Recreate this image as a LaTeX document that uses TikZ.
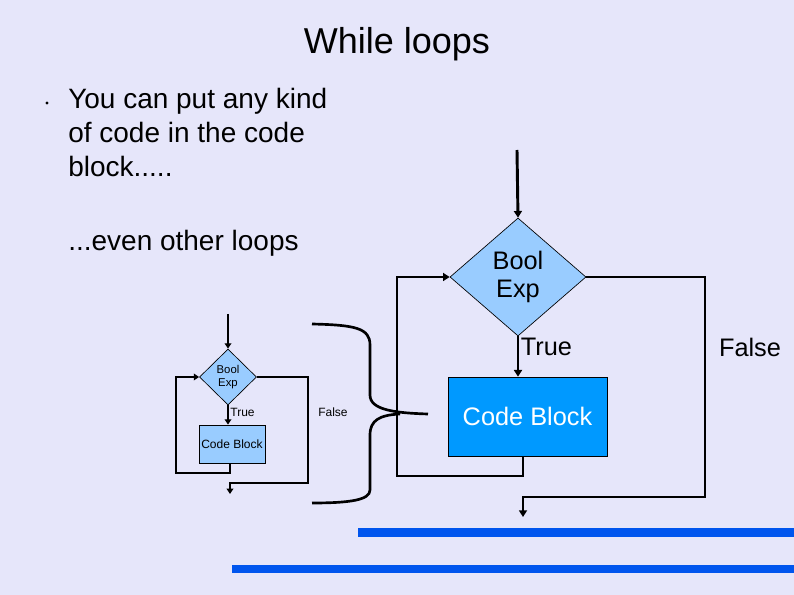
\documentclass[tikz,border=0pt]{standalone}
\usepackage{fontspec}
\setmainfont{Liberation Sans}
\usetikzlibrary{shapes.geometric,arrows.meta}
\definecolor{bg}{HTML}{E6E6FA}
\definecolor{lblue}{HTML}{99CCFF}
\definecolor{dblue}{HTML}{0099FF}
\definecolor{bar}{HTML}{0055EE}
\begin{document}
\begin{tikzpicture}[x=0.75pt,y=-0.75pt,
  ln/.style={line width=2.2pt,draw=black},
  arr/.style={ln,-{Triangle[width=6pt,length=5pt]}},
  sln/.style={line width=1.6pt,draw=black},
  sarr/.style={sln,-{Triangle[width=5pt,length=4pt]}},
  dia/.style={diamond,draw=black,line width=0.5pt,inner sep=0pt,align=center},
  box/.style={rectangle,draw=black,line width=0.5pt,inner sep=0pt}]
\fill[bg] (0,0) rectangle (794,595);
\useasboundingbox (0,0) rectangle (794,595);
\node[font=\fontsize{27}{30}\selectfont] (title) at (397,44) {While loops};
\fill (47,103) circle (1.6);
\node[anchor=north west,align=left,inner sep=0pt,font=\fontsize{21}{25.5}\selectfont] (t1) at (68,88) {You can put any kind\\of code in the code\\block.....};
\node[anchor=west,inner sep=0pt,font=\fontsize{21}{25}\selectfont] (t2) at (68,243) {...even other loops};
% big diagram
\coordinate (bt) at (517,150);
\node[dia,fill=lblue,minimum width=136*0.75pt,minimum height=118*0.75pt,font=\fontsize{19}{21}\selectfont] (bd) at (518,277) {Bool\\Exp};
\node[box,fill=dblue,minimum width=159*0.75pt,minimum height=79*0.75pt,font=\fontsize{19}{21}\selectfont,text=white] (bb) at (527.5,416.5) {Code Block};
\draw[arr] (bt) -- (bd.north);
\draw[arr] (bd.south) -- node[right,inner sep=1pt,pos=0.25,font=\fontsize{19}{21}\selectfont]{True} (bd.south |- bb.north);
\coordinate (bl) at (523,476);
\draw[arr] (bb.south -| bl) -- (bl) -| (397,277) -- (bd.west);
\coordinate (be) at (523,517);
\draw[arr] (bd.east) -- (705,277) -- (705,497) -- (523,497) -- (be);
\node[font=\fontsize{19}{21}\selectfont] (bf) at (750,347) {False};
% small diagram
\coordinate (st) at (228,314);
\node[dia,fill=lblue,minimum width=57*0.75pt,minimum height=56*0.75pt,font=\fontsize{8.5}{9.5}\selectfont] (sd) at (228,377) {Bool\\Exp};
\node[box,fill=lblue,minimum width=66*0.75pt,minimum height=38*0.75pt,font=\fontsize{9}{10}\selectfont] (sb) at (232,444) {Code Block};
\draw[sarr] (st) -- (sd.north);
\draw[sarr] (sd.south) -- node[right,inner sep=1pt,pos=0.35,font=\fontsize{9}{10}\selectfont]{True} (sd.south |- sb.north);
\coordinate (sl) at (230,473);
\draw[sarr] (sb.south -| sl) -- (sl) -| (176,377) -- (sd.west);
\coordinate (se) at (230,494);
\draw[sarr] (sd.east) -- (308,377) -- (308,483) -- (230,483) -- (se);
\node[font=\fontsize{9}{10}\selectfont] (sf) at (333,412) {False};
% brace
\coordinate (tip) at (428,414);
\draw[line width=2pt] (312,324) .. controls (355,325) and (370,328) .. (370,345) -- (370,395) .. controls (370,410) and (395,413) .. (tip);
\draw[line width=2pt] (400,414) .. controls (380,415) and (370,420) .. (370,435) -- (370,490) .. controls (370,500) and (350,503) .. (312,503);
% bars
\fill[bar] (358,528) rectangle (794,537);
\fill[bar] (232,565) rectangle (794,573);
\end{tikzpicture}
\end{document}
